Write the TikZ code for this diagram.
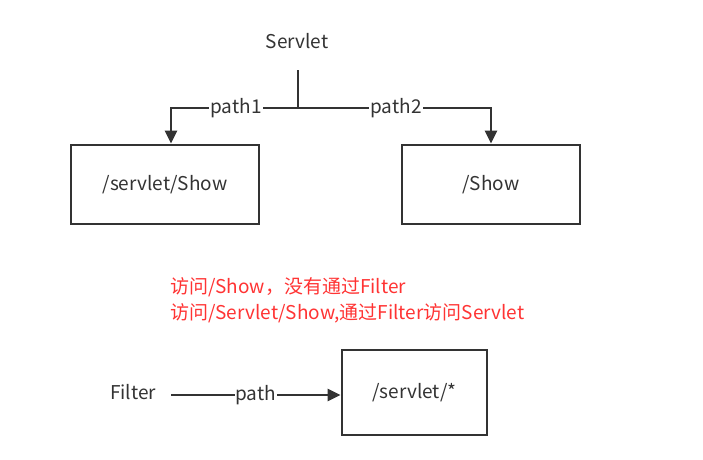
\documentclass[tikz,border=0pt]{standalone}
\usepackage{fontspec}
\setmainfont{Noto Sans CJK SC}
\usetikzlibrary{arrows.meta}
\definecolor{lc}{HTML}{333333}
\definecolor{rc}{HTML}{FF3333}
\tikzset{
  box/.style={draw=lc,line width=2.8pt,inner sep=0pt,text=lc,font=\fontsize{19}{22}\selectfont},
  lbl/.style={text=lc,font=\fontsize{19}{22}\selectfont,inner sep=1pt},
  conn/.style={draw=lc,line width=2.8pt},
  arr/.style={conn,-{Triangle[length=13pt,width=12pt]}},
  elbl/.style={fill=white,text=lc,font=\fontsize{19}{22}\selectfont,inner sep=1pt},
  red/.style={text=rc,font=\fontsize{19}{22}\selectfont,anchor=west,inner sep=0pt}
}
\begin{document}
\begin{tikzpicture}[x=1pt,y=-1pt]
\useasboundingbox (0,0) rectangle (703,459);
\node[lbl] (servlet) at (297,41) {Servlet};
\coordinate (vtop) at (298,70);
\coordinate (junc) at (298,108);
\node[box,minimum width=188pt,minimum height=79pt] (show1) at (165,184.5) {/servlet/Show};
\node[box,minimum width=178pt,minimum height=79pt] (show2) at (491,184.5) {/Show};
\coordinate (lcorner) at (171,108);
\coordinate (rcorner) at (491,108);
\draw[conn] (vtop) -- (junc);
\draw[arr] (junc) -- (lcorner) -- (lcorner |- show1.north);
\draw[arr] (junc) -- (rcorner) -- (show2.north);
\node[elbl] at (236,108) {path1};
\node[elbl] at (396,108) {path2};
\node[red] (r1) at (170,287) {访问/Show，没有通过Filter};
\node[red] (r2) at (170,313) {访问/Servlet/Show,通过Filter访问Servlet};
\node[lbl] (filter) at (133,392) {Filter};
\node[box,minimum width=145pt,minimum height=85pt] (star) at (414.5,392.5) {/servlet/*};
\coordinate (fstart) at (171,395);
\draw[arr] (fstart) -- (star.west |- fstart) node[elbl,pos=0.5] {path};
\end{tikzpicture}
\end{document}
